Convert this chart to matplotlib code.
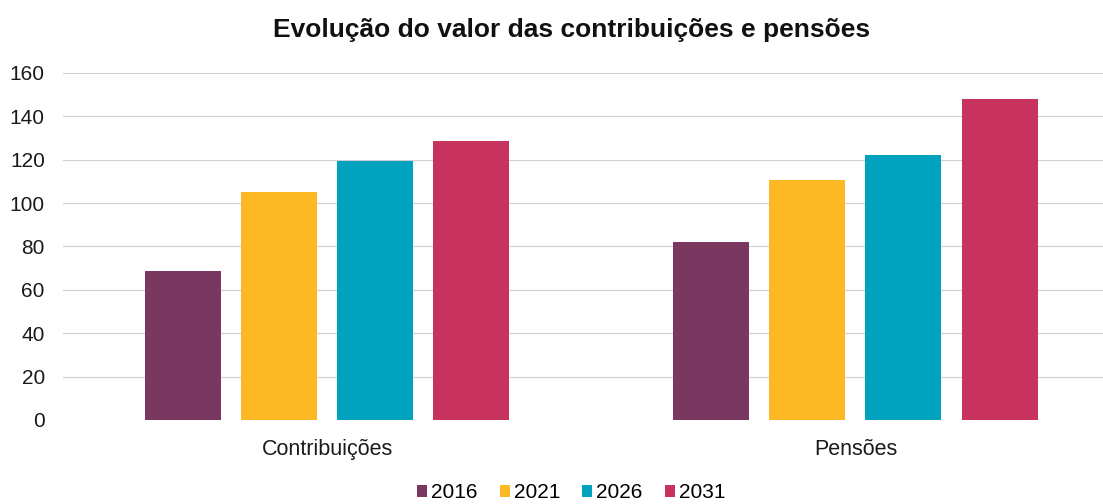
import matplotlib.pyplot as plt
import numpy as np

plt.rcParams['font.family'] = ['Liberation Sans', 'DejaVu Sans']

categories = ['Contribuições', 'Pensões']
years = ['2016', '2021', '2026', '2031']
values = {
    '2016': [68.5, 82],
    '2021': [105, 110.5],
    '2026': [119.5, 122],
    '2031': [128.5, 148],
}
colors = ['#7a3860', '#fdb924', '#00a2bd', '#c8325f']

fig = plt.figure(figsize=(11.03, 5.04), dpi=100)
ax = fig.add_axes([0.057, 0.1667, 0.958, 0.6885])

x = np.arange(len(categories))
width = 0.144
step = 0.182
for i, yr in enumerate(years):
    ax.bar(x + (i - 1.5) * step, values[yr], width, color=colors[i], label=yr, zorder=3)

ax.set_xlim(-0.5, 1.5)
ax.set_ylim(0, 160)
ax.set_yticks(range(0, 161, 20))
ax.grid(axis='y', color='#d0d0d0', linewidth=0.8, zorder=0)
for s in ax.spines.values():
    s.set_visible(False)
ax.tick_params(axis='both', length=0, labelsize=15, colors='#1a1a1a')
ax.tick_params(axis='y', pad=13)
ax.tick_params(axis='x', pad=14, labelsize=15.5)
ax.set_xticks(x)
ax.set_xticklabels(categories)

fig.text(0.518, 0.94, 'Evolução do valor das contribuições e pensões', ha='center', va='center',
         fontsize=19, fontweight='bold', color='#111111')
fig.legend(loc='center', bbox_to_anchor=(0.518, 0.022), ncol=4, frameon=False, fontsize=15,
           handlelength=0.48, handleheight=0.48, handletextpad=0.2, columnspacing=1.05)

fig.savefig('out.png', dpi=100)
